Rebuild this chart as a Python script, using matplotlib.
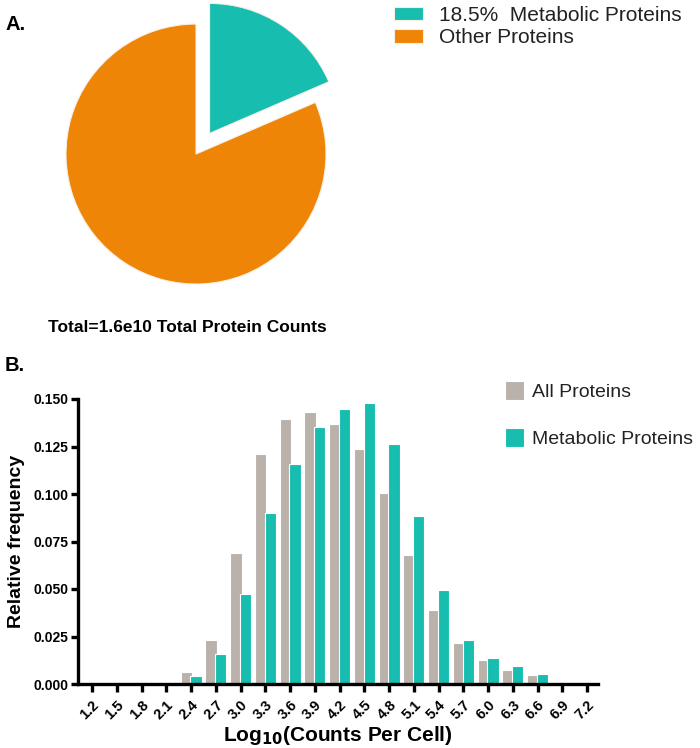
import matplotlib.pyplot as plt
import numpy as np

plt.rcParams['font.family'] = ['Liberation Sans', 'DejaVu Sans']

# panel A
pie_labels = ['18.5%  Metabolic Proteins', 'Other Proteins']
pie_values = [18.5, 81.5]
pie_colors = ['#17BEB0', '#EF8506']

# panel B
bins = ['1.2', '1.5', '1.8', '2.1', '2.4', '2.7', '3.0', '3.3', '3.6', '3.9', '4.2',
        '4.5', '4.8', '5.1', '5.4', '5.7', '6.0', '6.3', '6.6', '6.9', '7.2']
all_prot = [0.0, 0.0, 0.0005, 0.001, 0.0065, 0.023, 0.069, 0.121, 0.1395, 0.143, 0.137,
            0.1237, 0.1007, 0.0679, 0.039, 0.0214, 0.0126, 0.0074, 0.0047, 0.001, 0.0003]
met_prot = [0.0, 0.0, 0.0003, 0.001, 0.0042, 0.0156, 0.0474, 0.0898, 0.1158, 0.1354, 0.1447,
            0.1477, 0.1263, 0.0882, 0.0495, 0.0232, 0.0137, 0.0096, 0.0053, 0.001, 0.0002]
gray = '#BAB1AB'
teal = '#17BEB0'

W, H = 700, 748
fig = plt.figure(figsize=(7, 7.48), dpi=100)

# ---- pie ----
ax1 = fig.add_axes([40 / W, (H - 312) / H, 312 / W, 312 / H])
wedges, _ = ax1.pie(pie_values, colors=pie_colors, startangle=90, counterclock=False,
                    explode=[0.19, 0], wedgeprops=dict(edgecolor='#f7efe6', linewidth=0.8))
ax1.set_xlim(-1.2, 1.2)
ax1.set_ylim(-1.215, 1.185)
ax1.set_aspect('auto')
ax1.axis('off')
fig.legend(wedges, pie_labels, loc='upper left', bbox_to_anchor=(394 / W, 1 - 6 / H),
           frameon=False, fontsize=15, handlelength=1.4, handleheight=0.63,
           handletextpad=0.75, labelspacing=0.15, borderpad=0, borderaxespad=0,
           labelcolor='#222222')
fig.text(5 / W, 1 - 25 / H, 'A.', fontsize=14.5, fontweight='bold', va='center')
fig.text(187 / W, 1 - 327 / H, 'Total=1.6e10 Total Protein Counts', fontsize=12.5,
         fontweight='bold', ha='center', va='center')

# ---- histogram ----
fig.text(5 / W, 1 - 365 / H, 'B.', fontsize=14.5, fontweight='bold', va='center')
ax2 = fig.add_axes([78 / W, (H - 684) / H, 520 / W, 285 / H])
x = np.arange(len(bins))
b1 = ax2.bar(x - 0.19, all_prot, width=0.46, color=gray, edgecolor='white', linewidth=0.8,
             label='All Proteins')
b2 = ax2.bar(x + 0.2, met_prot, width=0.46, color=teal, edgecolor='white', linewidth=0.8,
             label='Metabolic Proteins')
ax2.set_xlim(-0.566, 20.44)
ax2.set_ylim(0, 0.15)
ax2.set_yticks([0, 0.025, 0.05, 0.075, 0.1, 0.125, 0.15])
ax2.set_yticklabels(['0.000', '0.025', '0.050', '0.075', '0.100', '0.125', '0.150'],
                    fontweight='bold', fontsize=10)
ax2.set_xticks(x)
ax2.set_xticklabels(bins, rotation=45, ha='right', rotation_mode='anchor',
                    fontweight='bold', fontsize=10.5)
for s in ['top', 'right']:
    ax2.spines[s].set_visible(False)
for s in ['left', 'bottom']:
    ax2.spines[s].set_linewidth(2.4)
ax2.tick_params(axis='y', width=2.4, length=5, direction='out', pad=2)
ax2.tick_params(axis='x', width=2.4, length=6, direction='out', pad=4)
ax2.set_ylabel('Relative frequency', fontsize=14, fontweight='bold', labelpad=6)
ax2.set_xlabel('Log$_{\\mathbf{10}}$(Counts Per Cell)', fontsize=15, fontweight='bold', labelpad=1)
fig.legend([b1, b2], ['All Proteins', 'Metabolic Proteins'], loc='upper left',
           bbox_to_anchor=(505 / W, 1 - 381 / H), frameon=False, fontsize=14,
           handlelength=1.0, handleheight=1.1, handletextpad=0.4, labelspacing=1.4,
           borderpad=0, borderaxespad=0, labelcolor='#222222')

fig.savefig('out.png', dpi=100)
